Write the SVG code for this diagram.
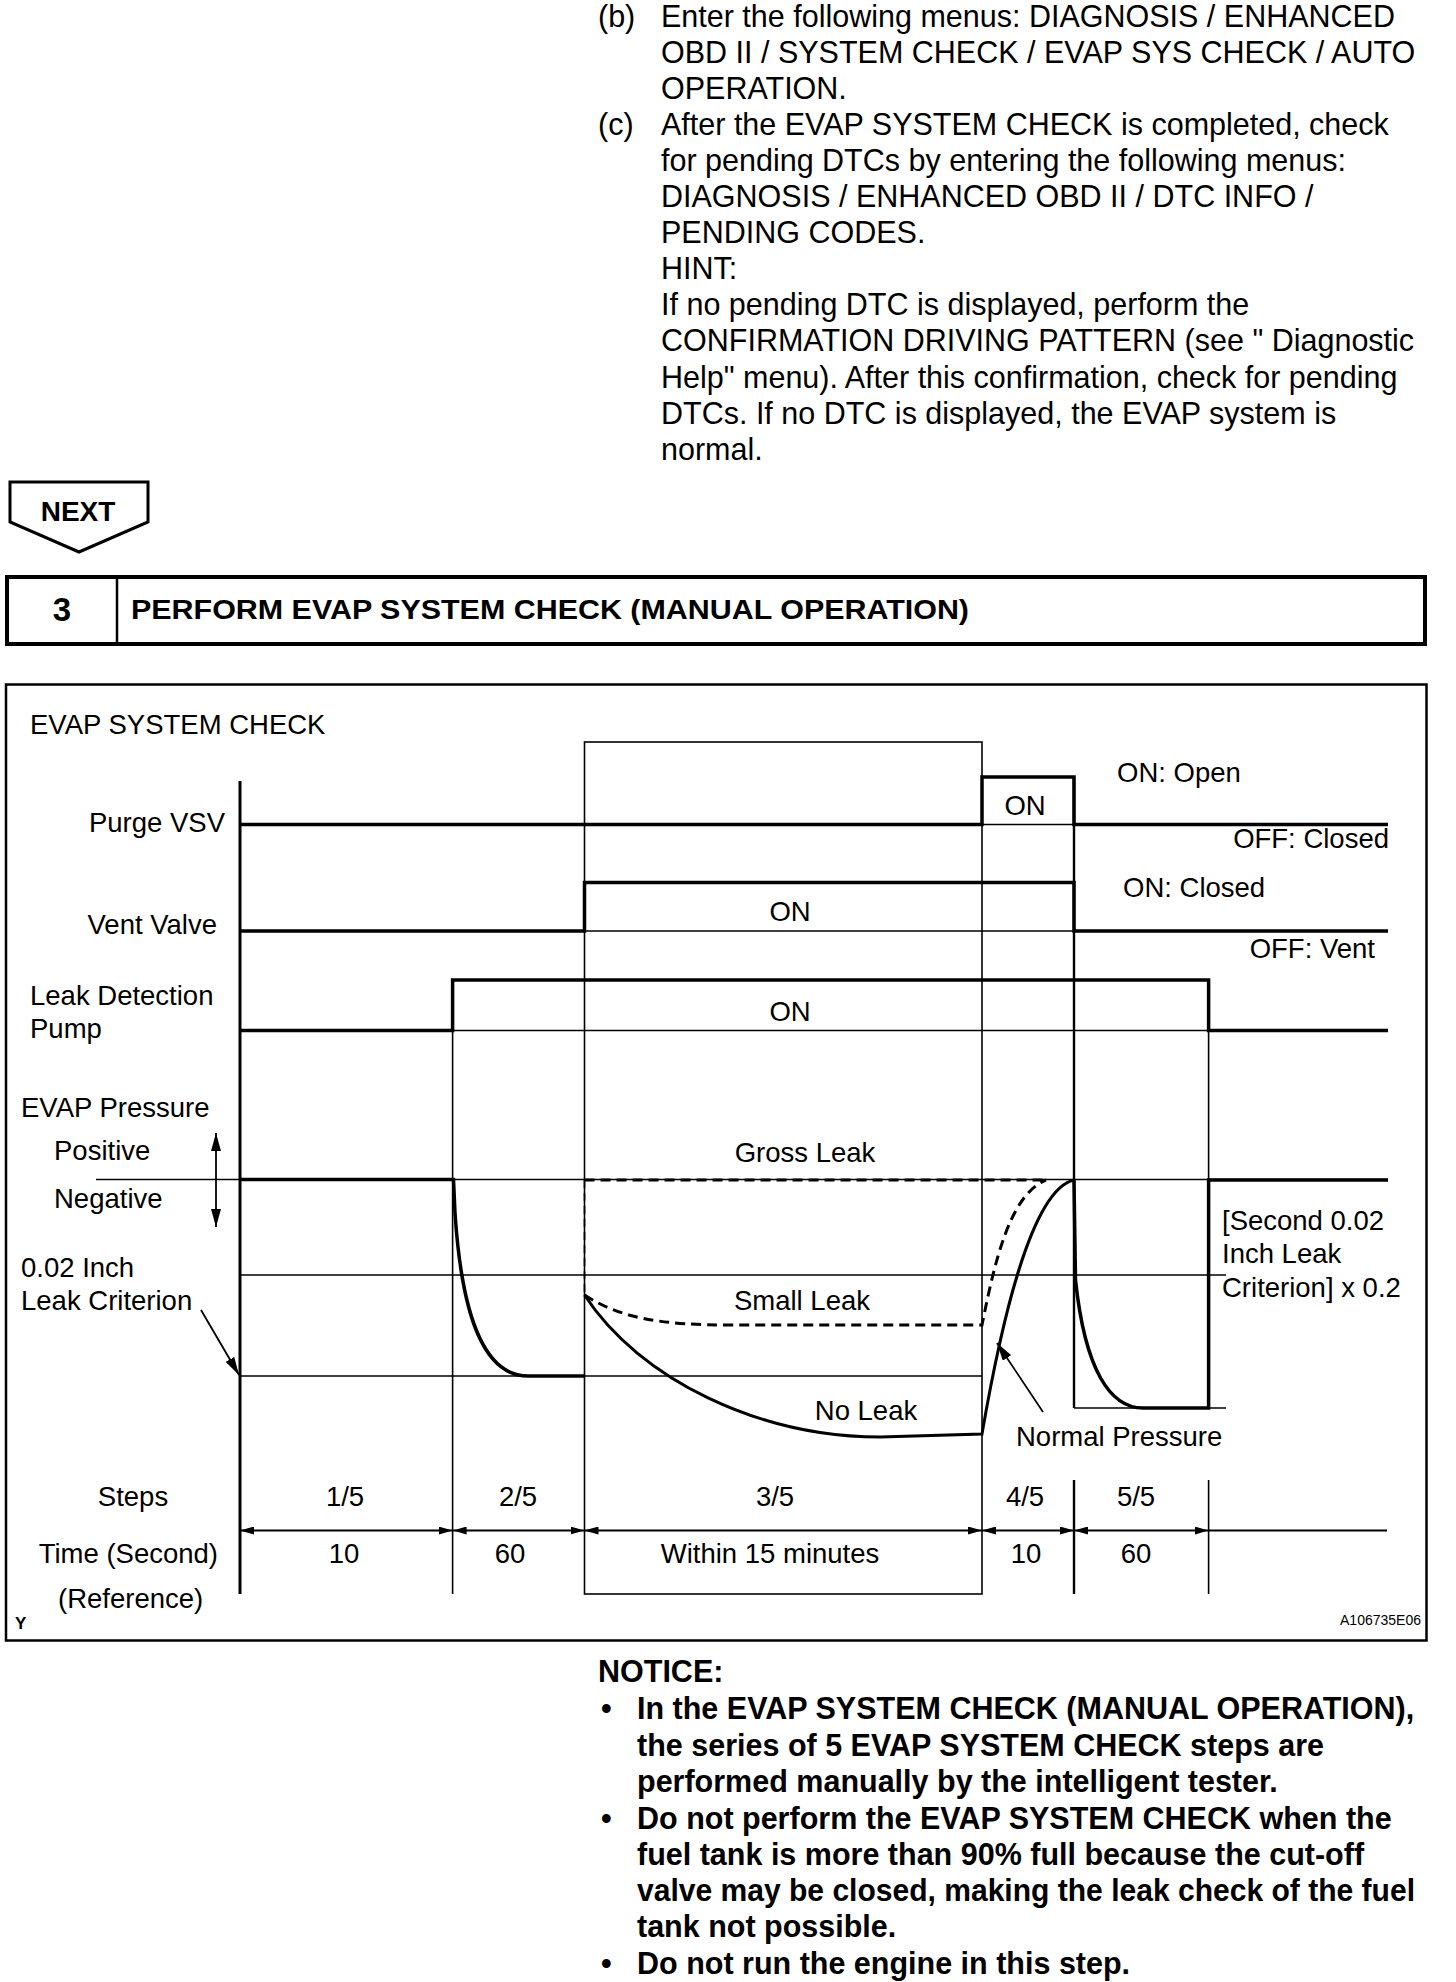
<svg xmlns="http://www.w3.org/2000/svg" width="1456" height="1982" viewBox="0 0 1456 1982">
<defs>
<style>
text{font-family:"Liberation Sans",Arial,sans-serif;fill:#000}
.t{font-size:30.5px}
.l{font-size:27.5px}
.b{font-size:30.5px;font-weight:bold}
.mid{text-anchor:middle}
.end{text-anchor:end}
.thick{fill:none;stroke:#000;stroke-width:3.5;stroke-linejoin:miter}
.thin{fill:none;stroke:#000;stroke-width:1.6}
.med{fill:none;stroke:#000;stroke-width:2.4}
.dash{fill:none;stroke:#000;stroke-width:3;stroke-dasharray:10 6}
.dthin{fill:none;stroke:#000;stroke-width:1.6;stroke-dasharray:8 5}
</style>
<marker id="ah" viewBox="0 0 14 8" refX="14" refY="4" markerWidth="14" markerHeight="8" markerUnits="userSpaceOnUse" orient="auto-start-reverse">
<path d="M0,0 L14,4 L0,8 Z" fill="#000"/>
</marker>
<marker id="ahL" viewBox="0 0 18 10" refX="18" refY="5" markerWidth="18" markerHeight="10" markerUnits="userSpaceOnUse" orient="auto-start-reverse">
<path d="M0,0 L18,5 L0,10 Z" fill="#000"/>
</marker>
</defs>
<rect width="1456" height="1982" fill="#fff"/>

<g id="instructions">
<text class="t" x="598" y="26.5">(b)</text>
<text class="t" x="661" y="26.5">Enter the following menus: DIAGNOSIS / ENHANCED</text>
<text class="t" x="661" y="62.6">OBD II / SYSTEM CHECK / EVAP SYS CHECK / AUTO</text>
<text class="t" x="661" y="98.7">OPERATION.</text>
<text class="t" x="598" y="134.8">(c)</text>
<text class="t" x="661" y="134.8">After the EVAP SYSTEM CHECK is completed, check</text>
<text class="t" x="661" y="170.9">for pending DTCs by entering the following menus:</text>
<text class="t" x="661" y="207">DIAGNOSIS / ENHANCED OBD II / DTC INFO /</text>
<text class="t" x="661" y="243.1">PENDING CODES.</text>
<text class="t" x="661" y="279.2">HINT:</text>
<text class="t" x="661" y="315.3">If no pending DTC is displayed, perform the</text>
<text class="t" x="661" y="351.4">CONFIRMATION DRIVING PATTERN (see " Diagnostic</text>
<text class="t" x="661" y="387.5">Help" menu). After this confirmation, check for pending</text>
<text class="t" x="661" y="423.6">DTCs. If no DTC is displayed, the EVAP system is</text>
<text class="t" x="661" y="459.7">normal.</text>
</g>

<g id="next">
<path d="M10,482 L148,482 L148,522 L79,552 L10,522 Z" fill="#fff" stroke="#000" stroke-width="3"/>
<text x="78" y="521" class="mid" style="font-size:28px;font-weight:bold">NEXT</text>
</g>

<g id="step-header">
<rect x="7" y="577" width="1418" height="67" fill="none" stroke="#000" stroke-width="4"/>
<line x1="117" y1="577" x2="117" y2="644" stroke="#000" stroke-width="2.5"/>
<text x="62" y="621" class="mid" style="font-size:33px;font-weight:bold">3</text>
<text x="131" y="618.5" style="font-size:27px;font-weight:bold" textLength="838" lengthAdjust="spacingAndGlyphs">PERFORM EVAP SYSTEM CHECK (MANUAL OPERATION)</text>
</g>

<g id="chart-frame">
<rect x="6" y="684.5" width="1420.5" height="956" fill="none" stroke="#000" stroke-width="2.5"/>
<text class="l" x="30" y="734">EVAP SYSTEM CHECK</text>
<text x="15" y="1629" style="font-size:17px;font-weight:bold">Y</text>
<text x="1421" y="1625" class="end" style="font-size:14px">A106735E06</text>
</g>

<g id="grid">
<line class="thin" x1="452.6" y1="980" x2="452.6" y2="1594"/>
<rect class="thin" x="584.5" y="742" width="397.5" height="852"/>
<line class="med" x1="1074" y1="777" x2="1074" y2="1408"/>
<line class="thin" x1="1208.6" y1="980" x2="1208.6" y2="1408"/>
<line class="med" x1="1074" y1="1480" x2="1074" y2="1594"/>
<line class="thin" x1="1208.6" y1="1480" x2="1208.6" y2="1594"/>
<line class="thin" x1="982" y1="824.5" x2="1074" y2="824.5"/>
<line class="thin" x1="584.5" y1="931" x2="1074" y2="931"/>
<line class="thin" x1="452.6" y1="1030.5" x2="1208.6" y2="1030.5"/>
<line class="thin" x1="96" y1="1179.5" x2="1388" y2="1179.5"/>
<line class="thin" x1="240" y1="1275" x2="1226" y2="1275"/>
<line class="thin" x1="240" y1="1376" x2="982" y2="1376"/>
<line class="thin" x1="1074" y1="1408" x2="1226" y2="1408"/>
<line x1="240" y1="781" x2="240" y2="1594" stroke="#000" stroke-width="3"/>
</g>

<g id="signal-labels">
<text class="l end" x="225" y="832">Purge VSV</text>
<text class="l end" x="217" y="934">Vent Valve</text>
<text class="l" x="30" y="1005">Leak Detection</text>
<text class="l" x="30" y="1038">Pump</text>
<text class="l" x="21" y="1117">EVAP Pressure</text>
<text class="l" x="54" y="1160">Positive</text>
<text class="l" x="54" y="1208">Negative</text>
<text class="l" x="21" y="1277">0.02 Inch</text>
<text class="l" x="21" y="1310">Leak Criterion</text>
</g>

<g id="purge-vsv">
<path class="thick" d="M240,824.5 L982,824.5 L982,777 L1074,777 L1074,824.5 L1388,824.5"/>
<text class="l mid" x="1025" y="815">ON</text>
<text class="l" x="1117" y="782">ON: Open</text>
<text class="l end" x="1389" y="848">OFF: Closed</text>
</g>

<g id="vent-valve">
<path class="thick" d="M240,931 L584.5,931 L584.5,882.5 L1074,882.5 L1074,931 L1388,931"/>
<text class="l mid" x="790" y="921">ON</text>
<text class="l" x="1123" y="897">ON: Closed</text>
<text class="l end" x="1375" y="958">OFF: Vent</text>
</g>

<g id="leak-detection-pump">
<path class="thick" d="M240,1030.5 L452.6,1030.5 L452.6,980 L1208.6,980 L1208.6,1030.5 L1388,1030.5"/>
<text class="l mid" x="790" y="1021">ON</text>
</g>

<g id="evap-pressure">
<path class="thick" d="M240,1179.5 L453.5,1179.5 L455,1213 C462,1320 485,1376 528,1376 L584.5,1376"/>
<path class="dthin" d="M584.5,1180 L584.5,1295"/>
<path class="dash" d="M584.5,1180 L1046,1180"/>
<path class="dash" d="M584.5,1295 C620,1318 660,1325 730,1325 L982,1325 C995,1260 1010,1195 1046,1180"/>
<path class="thick" style="stroke-width:3" d="M584.5,1295 C640,1380 760,1437 880,1437 L982,1434 C1000,1330 1030,1190 1074,1180"/>
<path class="thick" d="M1074,1180 L1075.5,1280 C1085,1370 1110,1408 1143,1408 L1208.6,1408 L1208.6,1180 L1388,1180"/>
<text class="l mid" x="805" y="1162">Gross Leak</text>
<text class="l mid" x="802" y="1310">Small Leak</text>
<text class="l mid" x="866" y="1420">No Leak</text>
<text class="l" x="1016" y="1446">Normal Pressure</text>
<text class="l" x="1222" y="1230">[Second 0.02</text>
<text class="l" x="1222" y="1263">Inch Leak</text>
<text class="l" x="1222" y="1297">Criterion] x 0.2</text>
</g>

<g id="connectors">
<line x1="216" y1="1133" x2="216" y2="1227" stroke="#000" stroke-width="1.8" marker-start="url(#ahL)" marker-end="url(#ahL)"/>
<line x1="201" y1="1310" x2="239" y2="1375" stroke="#000" stroke-width="1.8" marker-end="url(#ahL)"/>
<line x1="1043" y1="1412" x2="997" y2="1343" stroke="#000" stroke-width="1.8" marker-end="url(#ahL)"/>
<line x1="1208.6" y1="1530.5" x2="1387" y2="1530.5" stroke="#000" stroke-width="2"/>
<line x1="240" y1="1530.5" x2="452.6" y2="1530.5" stroke="#000" stroke-width="2" marker-start="url(#ah)" marker-end="url(#ah)"/>
<line x1="452.6" y1="1530.5" x2="584.5" y2="1530.5" stroke="#000" stroke-width="2" marker-start="url(#ah)" marker-end="url(#ah)"/>
<line x1="584.5" y1="1530.5" x2="982" y2="1530.5" stroke="#000" stroke-width="2" marker-start="url(#ah)" marker-end="url(#ah)"/>
<line x1="982" y1="1530.5" x2="1074" y2="1530.5" stroke="#000" stroke-width="2" marker-start="url(#ah)" marker-end="url(#ah)"/>
<line x1="1074" y1="1530.5" x2="1208.6" y2="1530.5" stroke="#000" stroke-width="2" marker-start="url(#ah)" marker-end="url(#ah)"/>
</g>

<g id="steps-table">
<text class="l mid" x="133" y="1506">Steps</text>
<text class="l mid" x="345" y="1506">1/5</text>
<text class="l mid" x="518" y="1506">2/5</text>
<text class="l mid" x="775" y="1506">3/5</text>
<text class="l mid" x="1025" y="1506">4/5</text>
<text class="l mid" x="1136" y="1506">5/5</text>
<text class="l end" x="218" y="1563">Time (Second)</text>
<text class="l mid" x="344" y="1563">10</text>
<text class="l mid" x="510" y="1563">60</text>
<text class="l mid" x="770" y="1563">Within 15 minutes</text>
<text class="l mid" x="1026" y="1563">10</text>
<text class="l mid" x="1136" y="1563">60</text>
<text class="l" x="58" y="1608">(Reference)</text>
</g>

<g id="notice">
<text class="b" x="598" y="1681.5">NOTICE:</text>
<text class="b" x="601" y="1719">•</text>
<text class="b" x="637" y="1719">In the EVAP SYSTEM CHECK (MANUAL OPERATION),</text>
<text class="b" x="637" y="1755.5">the series of 5 EVAP SYSTEM CHECK steps are</text>
<text class="b" x="637" y="1792">performed manually by the intelligent tester.</text>
<text class="b" x="601" y="1828.5">•</text>
<text class="b" x="637" y="1828.5">Do not perform the EVAP SYSTEM CHECK when the</text>
<text class="b" x="637" y="1865">fuel tank is more than 90% full because the cut-off</text>
<text class="b" x="637" y="1901" textLength="778" lengthAdjust="spacingAndGlyphs">valve may be closed, making the leak check of the fuel</text>
<text class="b" x="637" y="1937">tank not possible.</text>
<text class="b" x="601" y="1973.5">•</text>
<text class="b" x="637" y="1973.5">Do not run the engine in this step.</text>
</g>
</svg>
